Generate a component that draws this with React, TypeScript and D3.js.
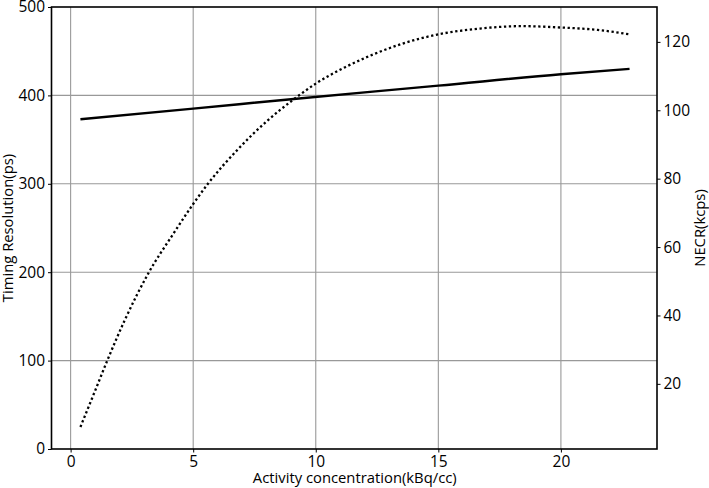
import React, { useRef, useEffect } from "react";
import * as d3 from "d3";

// NECR curve (dotted, right axis)
const necrX = [0.4, 1.0, 1.5, 2.2, 3.2, 4.2, 5.0, 5.6, 6.8, 8.0, 9.1, 10.0, 11.2, 12.3, 13.5, 15.0, 16.7, 18.4, 20.0, 21.5, 22.8];
const necrY = [7.4, 18, 26.9, 38.5, 52.7, 64, 72.6, 78.5, 88.4, 96.8, 103.2, 107.8, 112.6, 116.2, 119.4, 122.2, 123.9, 124.6, 124.2, 123.5, 122.2];

// timing resolution (solid, left axis)
const timingX = [0.4, 5, 9.1, 15, 20, 22.8];
const timingY = [373, 385, 396, 411, 424, 430];

const xTicks = [0, 5, 10, 15, 20];
const leftTicks = [0, 100, 200, 300, 400, 500];
const rightTicks = [20, 40, 60, 80, 100, 120];

const App = () => {
    const svgRef = useRef<SVGSVGElement>(null);

    useEffect(() => {
        const W = 709, H = 488;
        const margin = { top: 7, right: 52, bottom: 39, left: 51.5 };
        const width = W - margin.left - margin.right;
        const height = H - margin.top - margin.bottom;
        const font = "'Open Sans', 'DejaVu Sans', sans-serif";

        const root = d3.select(svgRef.current).attr("width", W).attr("height", H);
        root.selectAll("*").remove();
        const svg = root.append("g").attr("transform", `translate(${margin.left}, ${margin.top})`);

        const x = d3.scaleLinear().domain([-0.78, 23.92]).range([0, width]);
        const yL = d3.scaleLinear().domain([0, 500]).range([height, 0]);
        const yR = d3.scaleLinear().domain([0.95, 130.2]).range([height, 0]);

        // grid
        svg.append("g").selectAll("line").data(xTicks).enter().append("line")
            .attr("x1", (d) => x(d)).attr("x2", (d) => x(d))
            .attr("y1", 0).attr("y2", height)
            .attr("stroke", "#999").attr("stroke-width", 1.1);
        svg.append("g").selectAll("line").data(leftTicks.slice(1, -1)).enter().append("line")
            .attr("x1", 0).attr("x2", width)
            .attr("y1", (d) => yL(d)).attr("y2", (d) => yL(d))
            .attr("stroke", "#999").attr("stroke-width", 1.1);

        // lines
        const timingLine = d3.line<number>()
            .x((d, i) => x(timingX[i]))
            .y((d) => yL(d))
            .curve(d3.curveMonotoneX);
        svg.append("path").datum(timingY).attr("d", timingLine)
            .attr("fill", "none").attr("stroke", "#000").attr("stroke-width", 2.4);

        const necrLine = d3.line<number>()
            .x((d, i) => x(necrX[i]))
            .y((d) => yR(d))
            .curve(d3.curveMonotoneX);
        svg.append("path").datum(necrY).attr("d", necrLine)
            .attr("fill", "none").attr("stroke", "#000").attr("stroke-width", 2.3)
            .attr("stroke-dasharray", "2.3 2.6");

        // axes
        const styleAxis = (g) => {
            g.select(".domain").remove();
            g.selectAll("line").attr("stroke", "#000").attr("stroke-width", 1);
            g.selectAll("text").attr("fill", "#000").style("font-size", "15.5px").style("font-family", font);
        };
        svg.append("g").attr("transform", `translate(0, ${height})`)
            .call(d3.axisBottom(x).tickValues(xTicks).tickSize(3.5).tickPadding(3))
            .call(styleAxis);
        svg.append("g")
            .call(d3.axisLeft(yL).tickValues(leftTicks).tickSize(3.5).tickPadding(3))
            .call(styleAxis);
        svg.append("g").attr("transform", `translate(${width}, 0)`)
            .call(d3.axisRight(yR).tickValues(rightTicks).tickSize(3.5).tickPadding(3))
            .call(styleAxis);

        svg.append("rect").attr("width", width).attr("height", height)
            .attr("fill", "none").attr("stroke", "#000").attr("stroke-width", 1.6);

        // labels
        svg.append("text").attr("x", width / 2 + 0.5).attr("y", height + 34)
            .attr("text-anchor", "middle").style("font-size", "14.8px").style("font-family", font)
            .text("Activity concentration(kBq/cc)");
        svg.append("text").attr("transform", `translate(${-margin.left + 13}, ${height / 2}) rotate(-90)`)
            .attr("text-anchor", "middle").style("font-size", "14.8px").style("font-family", font)
            .text("Timing Resolution(ps)");
        svg.append("text").attr("transform", `translate(${width + 48}, ${height / 2}) rotate(-90)`)
            .attr("text-anchor", "middle").style("font-size", "14.8px").style("font-family", font)
            .text("NECR(kcps)");
    }, []);

    return (
        <svg ref={svgRef} style={{ display: "block", position: "absolute", left: 0, top: 0, background: "#fff" }}></svg>
    );
};

export default App;
